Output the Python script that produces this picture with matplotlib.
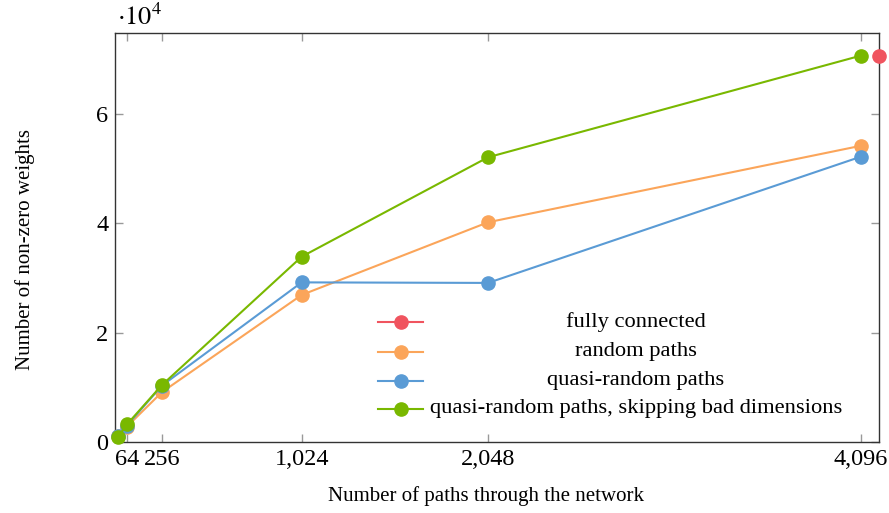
import matplotlib
matplotlib.use("Agg")
import matplotlib.pyplot as plt
from matplotlib.lines import Line2D

plt.rcParams['font.family'] = ['Liberation Serif', 'DejaVu Serif']
plt.rcParams['mathtext.fontset'] = 'stix'

# Data
paths = [16, 64, 256, 1024, 2048, 4096]
fully_x = [4196]
fully_y = [70700]
random_paths = [1000, 2800, 9100, 26900, 40200, 54200]
quasi_random = [1000, 3000, 10300, 29200, 29100, 52200]
quasi_skip = [950, 3200, 10400, 33900, 52100, 70700]

xticks = [64, 256, 1024, 2048, 4096]
xticklabels = ['64', '256', '1,024', '2,048', '4,096']
yticks = [0, 20000, 40000, 60000]
yticklabels = ['0', '2', '4', '6']

labels = ['fully connected', 'random paths', 'quasi-random paths',
          'quasi-random paths, skipping bad dimensions']
colors = ['#F0545F', '#FBA55A', '#5A9BD5', '#79B800']

W, H = 889, 513
L, R, B, T = 115.3, 879, 441.9, 32.7
fig = plt.figure(figsize=(W / 100, H / 100), dpi=100)
ax = fig.add_axes([L / W, (H - B) / H, (R - L) / W, (B - T) / H])

def ax_x(px):
    return (px - L) / (R - L)

def ax_y(py):
    return (B - py) / (B - T)

lw = 1.5
ms = 9.5
series = [(fully_x, fully_y), (paths, random_paths), (paths, quasi_random), (paths, quasi_skip)]
for (xs, ys), c in zip(series, colors):
    ax.plot(xs, ys, color=c, lw=lw, marker='o', ms=ms, mec=c, mfc=c, clip_on=False, zorder=3)

ax.set_xlim(0, 4196)
ax.set_ylim(0, 74900)
ax.set_xticks(xticks)
ax.set_xticklabels(xticklabels)
ax.set_yticks(yticks)
ax.set_yticklabels(yticklabels)
ax.tick_params(direction='in', length=6, width=1, color='#999999', labelsize=17.5,
               top=True, right=True, pad=5)
for s in ax.spines.values():
    s.set_color('#333333')
    s.set_linewidth(1)

ax.set_xlabel('Number of paths through the network', fontsize=15)
ax.set_ylabel('Number of non-zero weights', fontsize=15)
ax.xaxis.set_label_coords(ax_x(486), ax_y(496), transform=ax.transAxes)
ax.xaxis.label.set_va('center')
ax.yaxis.set_label_coords(ax_x(25), ax_y(250), transform=ax.transAxes)
ax.yaxis.label.set_va('center')
ax.text(ax_x(117), ax_y(25), r'$\cdot 10^4$', transform=ax.transAxes, fontsize=19,
        ha='left', va='baseline')

# Manual legend (centered text, no frame)
rows = [321.7, 351.5, 381, 408.5]
for lab, c, py in zip(labels, colors, rows):
    yy = ax_y(py)
    ax.add_line(Line2D([ax_x(378), ax_x(423)], [yy, yy], transform=ax.transAxes,
                       color=c, lw=lw, zorder=4))
    ax.add_line(Line2D([ax_x(400.5)], [yy], transform=ax.transAxes, color=c,
                       marker='o', ms=ms, mec=c, mfc=c, zorder=4))
    ax.text(ax_x(636), yy, lab, transform=ax.transAxes, ha='center', va='center',
            fontsize=16.2)

fig.savefig('out.png', dpi=100)
